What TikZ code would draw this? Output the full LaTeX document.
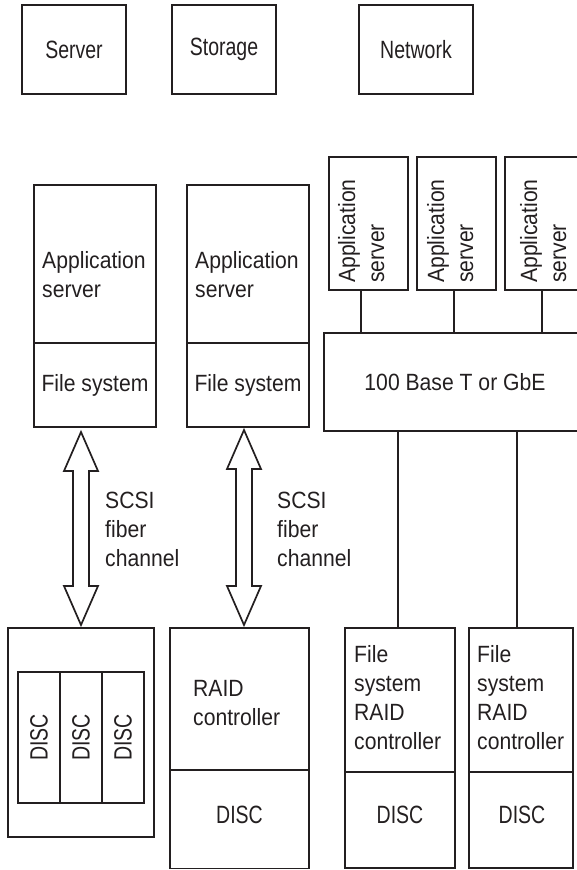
\documentclass[tikz,border=0pt]{standalone}
\usepackage{fontspec}
\setmainfont[FakeStretch=0.9]{Liberation Sans}
\newfontfamily\headfont[FakeStretch=0.78]{Liberation Sans}
\usetikzlibrary{calc}
\definecolor{ink}{RGB}{35,31,32}

% rectangle node given by its corners (x1,y1) and (x2,y2), y running downwards
\newcommand\rbox[5]{%
  \node[blk, minimum width={#4-#2}, minimum height={#5-#3}] (#1)
    at ({(#2+#4)/2},{(#3+#5)/2}) {};}

% hollow double-headed arrow between two points on one vertical line
\newcommand\fatarrow[2]{%
  \draw[blk] let \p1=(#1), \p2=(#2) in
    (\x1,\y1) -- (\x1+17pt,\y1-39pt) -- (\x1+8pt,\y1-39pt)
    -- (\x1+8pt,\y2+39pt) -- (\x1+17pt,\y2+39pt) -- (\x1,\y2)
    -- (\x1-17pt,\y2+39pt) -- (\x1-8pt,\y2+39pt)
    -- (\x1-8pt,\y1-39pt) -- (\x1-17pt,\y1-39pt) -- cycle;}

\begin{document}
\begin{tikzpicture}[x=1pt, y=-1pt,
  blk/.style={draw=ink, line width=1.7pt, inner sep=0pt, outer sep=0pt,
              line join=miter},
  wire/.style={draw=ink, line width=1.7pt},
  lbl/.style={inner sep=0pt, text=ink,
              font=\fontsize{23.5}{29}\selectfont},
  head/.style={inner sep=0pt, text=ink,
              font=\headfont\fontsize{25}{30}\selectfont},
  lft/.style={lbl, align=left, anchor=north west},
  vrt/.style={lbl, align=left, anchor=north west, rotate=90}]

\useasboundingbox (0,0) rectangle (577,870);
\clip (0,0) rectangle (577,870);

% column headings
\rbox{srv}{22}{5}{126}{94}
\rbox{sto}{172}{5}{276}{94}
\rbox{net}{359}{5}{473}{94}
\node[head] at (srv) {Server};
\node[head] at (sto) {Storage};
\node[head] at (net) {Network};

% servers with their own file systems
\rbox{appA}{34}{185}{156}{343}
\rbox{fsA}{34}{343}{156}{427}
\rbox{appB}{187}{185}{309}{343}
\rbox{fsB}{187}{343}{309}{427}
\node[lft] at (42,251.5) {Application\\server};
\node[lft] at (195,251.5) {Application\\server};
\node[lbl] at (fsA) {File system};
\node[lbl] at (fsB) {File system};

% network attached: application servers on a LAN
\rbox{nasA1}{329}{157}{408}{290}
\rbox{nasA2}{417}{157}{496}{290}
\rbox{nasA3}{505}{157}{584}{290}
\node[vrt] at (338,283) {Application\\server};
\node[vrt] at (427,283) {Application\\server};
\node[vrt] at (520,283) {Application\\server};
\rbox{lan}{324}{333}{586}{431}
\node[lbl] at (455,382) {100 Base T or GbE};

\draw[wire] ([xshift=-7.5pt]nasA1.south) -- ([xshift=-7.5pt]nasA1.south |- lan.north);
\draw[wire] ([xshift=-2.5pt]nasA2.south) -- ([xshift=-2.5pt]nasA2.south |- lan.north);
\draw[wire] ([xshift=-2.5pt]nasA3.south) -- ([xshift=-2.5pt]nasA3.south |- lan.north);

% direct attached discs
\rbox{jbod}{8}{628}{154}{837}
\rbox{dk1}{18}{672}{60}{803}
\rbox{dk2}{60}{672}{102}{803}
\rbox{dk3}{102}{672}{144}{803}
\node[head, rotate=90] at (dk1) {DISC};
\node[head, rotate=90] at (dk2) {DISC};
\node[head, rotate=90] at (dk3) {DISC};

% RAID storage
\rbox{raid}{170}{628}{309}{770}
\rbox{raidDisc}{170}{770}{309}{868.5}
\node[lft] at (193,680) {RAID\\controller};
\node[head] at (239.5,815) {DISC};

% filers on the LAN
\rbox{nas1}{345}{628}{455}{772}
\rbox{nas1Disc}{345}{772}{455}{868}
\rbox{nas2}{469}{628}{573}{772}
\rbox{nas2Disc}{469}{772}{573}{868}
\node[lft] at (354,645) {File\\system\\RAID\\controller};
\node[lft] at (477,645) {File\\system\\RAID\\controller};
\node[head] at (400,815) {DISC};
\node[head] at (522,815) {DISC};

\draw[wire] ([xshift=-2pt]nas1.north) -- ([xshift=-2pt]nas1.north |- lan.south);
\draw[wire] ([xshift=-4pt]nas2.north) -- ([xshift=-4pt]nas2.north |- lan.south);

% SCSI / fibre channel links
\coordinate (upA) at ($(jbod.north |- fsA.south)+(0,5)$);
\coordinate (dnA) at ($(jbod.north)+(0,-3)$);
\coordinate (upB) at (244,430);
\coordinate (dnB) at (244,625);
\fatarrow{upA}{dnA}
\fatarrow{upB}{dnB}
\node[lft] at (105,492) {SCSI\\fiber\\channel};
\node[lft] at (277,492) {SCSI\\fiber\\channel};

\end{tikzpicture}
\end{document}
